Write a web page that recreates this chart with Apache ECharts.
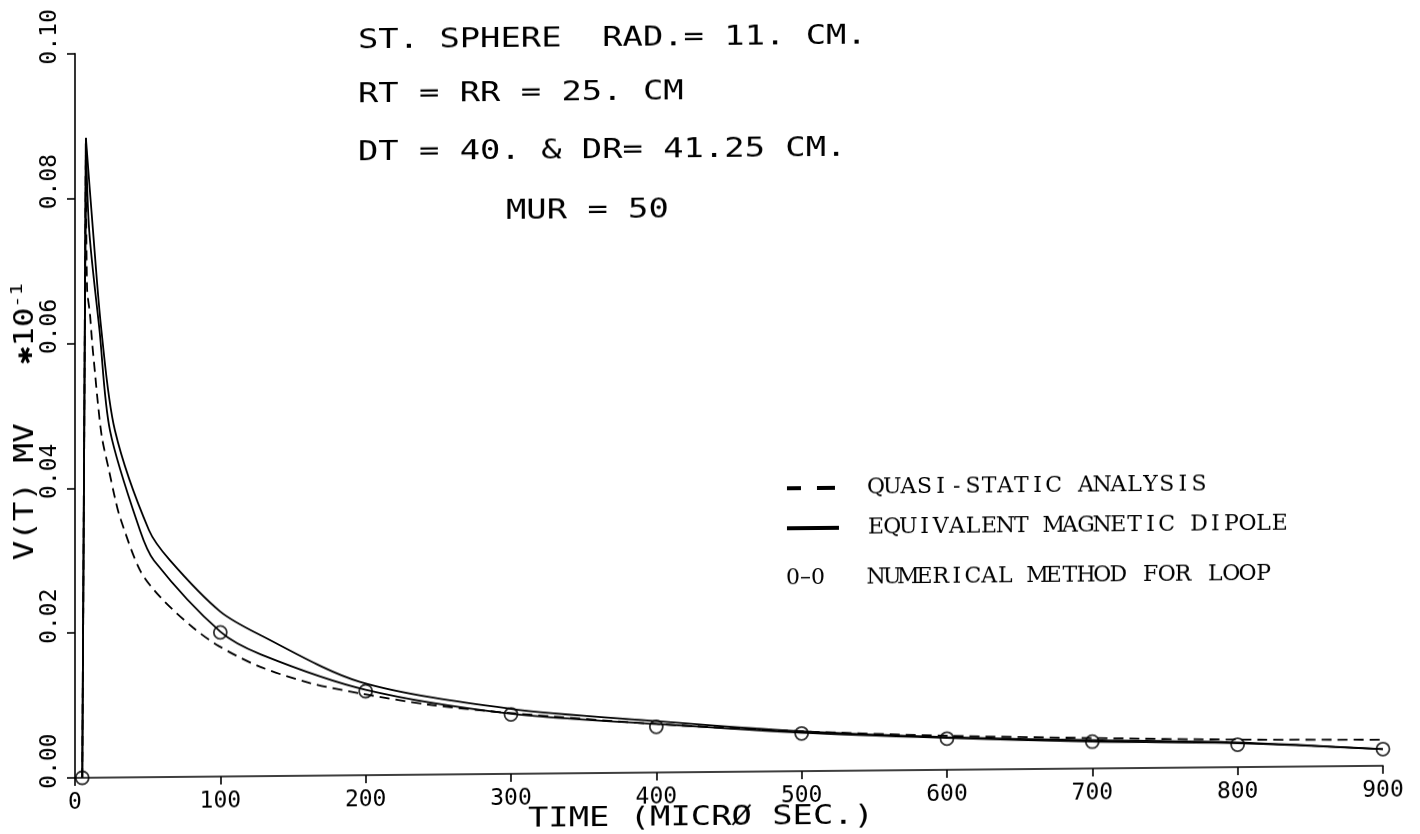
<!DOCTYPE html>
<html>
<head>
<meta charset="utf-8">
<script src="https://cdn.jsdelivr.net/npm/echarts@6/dist/echarts.min.js"></script>
<style>
  html, body { margin: 0; padding: 0; background: #fff; overflow: hidden; }
  /* the plotted sheet runs slightly uphill to the right */
  #chart { width: 1420px; height: 834px; transform: skewY(-0.53deg); transform-origin: 710px 417px; }
</style>
</head>
<body>
<div id="chart"></div>
<script>
// Transient receiver voltage for a steel sphere, three models.
// Time in microseconds, voltage in mV (x10^-1).

// Quasi-static analysis (dashed)
const quasiT = [5, 7.5, 8.3, 10.3, 11.7, 13.8, 15.8, 18.6, 23.4, 27.5, 31.0, 44.7, 58.5, 81.2, 99.1, 127.3, 161.7, 196.1, 242.2, 299.3, 400, 500, 600, 700, 800, 900];
const quasiV = [0, 0.0883, 0.0676, 0.0640, 0.0603, 0.0558, 0.0516, 0.0469, 0.0424, 0.0386, 0.0359, 0.0286, 0.0249, 0.0206, 0.0180, 0.0151, 0.0128, 0.0113, 0.0097, 0.0084, 0.0067, 0.0055, 0.0047, 0.0042, 0.0038, 0.0036];

// Equivalent magnetic dipole, lower solid curve
const dipoleLowT = [5, 7.5, 9.8, 16.9, 24.1, 44.7, 54.4, 100, 128, 200, 300, 400, 500, 600, 700, 800, 900];
const dipoleLowV = [0, 0.0883, 0.0755, 0.0617, 0.0479, 0.0341, 0.0299, 0.0200, 0.0168, 0.0118, 0.0083, 0.0067, 0.0053, 0.0044, 0.0037, 0.0033, 0.0023];

// Equivalent magnetic dipole, upper solid curve
const dipoleHighT = [5, 7.5, 12.4, 18.2, 27.5, 50.9, 65.4, 99.8, 127.3, 196, 299, 400, 500, 600, 700, 800, 900];
const dipoleHighV = [0, 0.0883, 0.0755, 0.0617, 0.0479, 0.0341, 0.0299, 0.0228, 0.0195, 0.0129, 0.0090, 0.0071, 0.0055, 0.0045, 0.0039, 0.0034, 0.0023];

// Numerical method for loop (circles)
const loopT = [5, 100, 200, 300, 400, 500, 600, 700, 800, 900];
const loopV = [0, 0.0199, 0.0116, 0.0082, 0.0063, 0.0052, 0.0043, 0.0037, 0.0031, 0.0023];

// Axis ranges and annotation text
const xMin = 0, xMax = 900, xStep = 100;
const yMin = 0, yMax = 0.10, yStep = 0.02;
const xName = 'TIME (MICRØ SEC.)';
const yName = 'V(T) MV   ';
const yUnit = '10';
const yExp = '-1';
const noteLines = ['ST. SPHERE  RAD.= 11. CM.', 'RT = RR = 25. CM', 'DT = 40. & DR= 41.25 CM.', 'MUR = 50'];
const legendLabels = ['QUASI-STATIC ANALYSIS', 'EQUIVALENT MAGNETIC DIPOLE', 'NUMERICAL METHOD FOR LOOP'];
const loopKey = '0–0';

const zip = (ts, vs) => ts.map((t, i) => [t, vs[i]]);

const plotFont = '"DejaVu Sans Mono", monospace';
const typeFont = '"DejaVu Serif", serif';
const ink = '#000';

const chart = echarts.init(document.getElementById('chart'), null, { renderer: 'canvas' });

// each curve: a straight switch-on rise to the peak, then a smooth decay
function curve(name, ts, vs, lineStyle) {
  const pts = zip(ts, vs);
  const base = { type: 'line', showSymbol: false, symbol: 'none', animation: false, z: 3, lineStyle: lineStyle };
  return [
    Object.assign({}, base, { name: name + 'Rise', data: pts.slice(0, 2), smooth: false }),
    Object.assign({}, base, { name: name, data: pts.slice(1), smooth: 0.3 })
  ];
}

const solid = { color: ink, width: 1.8 };
const dashed = { color: ink, width: 1.8, type: [10, 6] };

// plotter lettering: monospace, stretched to the pen's letter pitch
const plotText = (text, x, y) => ({
  type: 'text', x: x, y: y, scaleX: 1.3,
  style: { text: text, fontFamily: plotFont, fontSize: 26, fill: ink, verticalAlign: 'middle' }
});
// typewriter lettering: serif glyphs set on a fixed pitch
const typedText = (text, x, y) => ({
  type: 'text', x: x, y: y,
  style: {
    text: text.split('').map(c => '{t|' + c + '}').join(''),
    verticalAlign: 'middle', fill: ink,
    rich: { t: { width: 16.15, align: 'center', fontFamily: typeFont, fontSize: 22, fill: ink } }
  }
});

chart.setOption({
  backgroundColor: '#fff',
  animation: false,
  grid: { left: 75, right: 37, top: 46, bottom: 62, containLabel: false },
  xAxis: {
    type: 'value', min: xMin, max: xMax, interval: xStep,
    axisLine: { show: true, lineStyle: { color: ink, width: 1.6 } },
    axisTick: { show: true, inside: false, length: 8, lineStyle: { color: ink, width: 1.6 } },
    axisLabel: { margin: 14, fontFamily: plotFont, fontSize: 23, color: ink },
    splitLine: { show: false }
  },
  yAxis: {
    type: 'value', min: yMin, max: yMax, interval: yStep,
    axisLine: { show: true, lineStyle: { color: ink, width: 1.6 } },
    axisTick: { show: true, inside: false, length: 8, lineStyle: { color: ink, width: 1.6 } },
    axisLabel: {
      rotate: 90, margin: 13, color: ink,
      formatter: v => '{sp|}{n|' + v.toFixed(2) + '}',
      rich: {
        sp: { width: 34, fontSize: 23, fontFamily: plotFont },
        n: { fontFamily: plotFont, fontSize: 23, color: ink }
      }
    },
    splitLine: { show: false }
  },
  series: [].concat(
    curve('quasi', quasiT, quasiV, dashed),
    curve('dipoleLow', dipoleLowT, dipoleLowV, solid),
    curve('dipoleHigh', dipoleHighT, dipoleHighV, solid),
    [{ type: 'scatter', name: 'loop', data: zip(loopT, loopV), symbol: 'circle', symbolSize: 13,
       itemStyle: { color: 'rgba(255,255,255,0)', borderColor: ink, borderWidth: 1.8 }, z: 4 }]
  ),
  graphic: [
    // annotation block in plotter lettering
    plotText(noteLines[0], 358, 38),
    plotText(noteLines[1], 358, 92),
    plotText(noteLines[2], 358, 150),
    plotText(noteLines[3], 506, 210),
    // axis titles in plotter lettering
    plotText(xName, 528, 818),
    {
      type: 'text', x: 26, y: 554, rotation: Math.PI / 2, scaleX: 1.25,
      style: {
        text: '{a|' + yName + '}{b|✱}{a|' + yUnit + '}{s|' + yExp + '}',
        verticalAlign: 'middle', fill: ink,
        rich: {
          a: { fontFamily: plotFont, fontSize: 26, fill: ink },
          b: { fontFamily: plotFont, fontSize: 24, fill: ink, fontWeight: 'bold' },
          s: { fontFamily: plotFont, fontSize: 16, fill: ink, verticalAlign: 'top', padding: [0, 0, 16, 0] }
        }
      }
    },
    // legend, typed
    { type: 'line', shape: { x1: 787, y1: 489, x2: 801, y2: 489 }, style: { stroke: ink, lineWidth: 4 } },
    { type: 'line', shape: { x1: 817, y1: 489, x2: 835, y2: 489 }, style: { stroke: ink, lineWidth: 4 } },
    { type: 'line', shape: { x1: 787, y1: 529, x2: 839, y2: 529 }, style: { stroke: ink, lineWidth: 4 } },
    { type: 'text', x: 786, y: 579, style: { text: loopKey, fontFamily: typeFont, fontSize: 22, fill: ink, verticalAlign: 'middle' } },
    typedText(legendLabels[0], 868, 489),
    typedText(legendLabels[1], 868, 529),
    typedText(legendLabels[2], 868, 579)
  ]
});
</script>
</body>
</html>
